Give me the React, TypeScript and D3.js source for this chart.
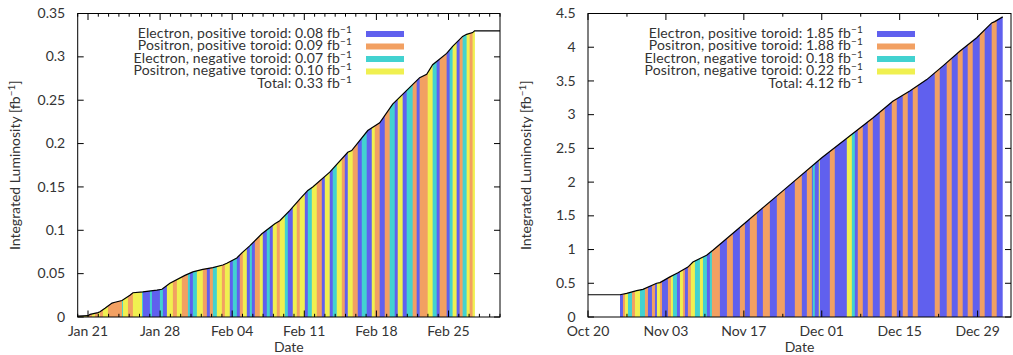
import React from "react";
import * as d3 from "d3";

// Beam/toroid configurations, in legend order
const configNames = [
  "Electron, positive toroid",
  "Positron, positive toroid",
  "Electron, negative toroid",
  "Positron, negative toroid",
];
const configColors = ["#6060ee", "#f2a062", "#42d2d0", "#f0f050"];
const configCodes = "abcd";

const DAY = 86400000;

// ---- Spring run (days counted from Jan 20) ----
const springStart = Date.UTC(2018, 0, 20);
const springSpanDays = 41;
const springCurveDay = [
  0, 1.0, 1.2, 1.97, 2.16, 2.65, 3.33, 3.62, 4.3, 5.07, 5.36, 6.33, 7.69, 8.18,
  8.95, 10.41, 11.18, 12.15, 13.12, 14.09, 14.48, 15.45, 15.94, 16.7, 17.88,
  19.14, 19.62, 20.6, 21.56, 22.34, 22.82, 24.47, 26.22, 26.6, 28.16, 29.32,
  30.58, 33.2, 33.88, 34.46, 35.82, 36.4, 37.37, 37.76, 38.34, 38.53, 41,
];
const springCurveLumi = [
  0.001, 0.0015, 0.003, 0.005, 0.006, 0.01, 0.016, 0.017, 0.019, 0.025, 0.028,
  0.029, 0.031, 0.032, 0.039, 0.048, 0.052, 0.055, 0.057, 0.06, 0.062, 0.068,
  0.074, 0.082, 0.096, 0.1075, 0.111, 0.123, 0.136, 0.146, 0.15, 0.167, 0.19,
  0.192, 0.215, 0.224, 0.2455, 0.276, 0.28, 0.291, 0.304, 0.312, 0.3236, 0.326,
  0.328, 0.33, 0.33,
];
const springRunEdges = [
  0, 1.0, 1.39, 1.68, 1.97, 2.16, 2.45, 2.94, 4.3, 4.39, 4.88, 5.36, 6.24, 6.33,
  7.01, 7.21, 7.98, 8.27, 8.66, 9.24, 9.63, 10.11, 10.7, 10.89, 11.18, 11.57,
  12.15, 12.54, 12.83, 13.12, 13.51, 14.0, 14.29, 14.77, 15.06, 15.45, 15.74,
  16.03, 16.42, 16.71, 16.91, 17.2, 17.68, 17.97, 18.36, 18.65, 18.94, 19.33,
  19.62, 20.11, 20.4, 20.88, 21.27, 21.56, 22.05, 22.34, 22.73, 23.21, 23.7,
  23.99, 24.47, 24.76, 25.15, 25.64, 25.93, 26.22, 26.7, 27.19, 27.58, 28.06,
  28.55, 28.84, 29.32, 29.81, 30.29, 30.78, 31.07, 31.55, 31.94, 32.52, 32.91,
  33.2, 33.98, 34.46, 34.85, 35.14, 35.82, 36.11, 36.4, 36.79, 37.08, 37.37,
  37.76, 38.05, 38.34, 38.53,
];
const springRunConfig =
  "dbdbdbdbcd" + "bdcacacadb" + "dbcacdbabc" + "dbdacabdac" + "abdacadbdc" +
  "adbdacdbad" + "acdbadbaca" + "dbabcadacb" + "abdcabacda" + "bcdbd";
const springTotals = [0.08, 0.09, 0.07, 0.1];
const springTotal = 0.33;
const springYMax = 0.35;
const springYTicks = [0, 0.05, 0.1, 0.15, 0.2, 0.25, 0.3, 0.35];

// ---- Fall run (days counted from Oct 20) ----
const fallStart = Date.UTC(2018, 9, 20);
const fallSpanDays = 76;
const fallCurveDay = [
  0, 5.75, 6.95, 8.74, 9.87, 12.33, 12.93, 14.72, 16.16, 17.95, 18.85, 21.31,
  22.44, 28.0, 35.0, 42.0, 51.17, 54.76, 57.81, 60.86, 63.73, 66.79, 69.84,
  72.53, 73.07, 74.51,
];
const fallCurveLumi = [
  0.33, 0.33, 0.35, 0.39, 0.41, 0.5, 0.51, 0.595, 0.655, 0.74, 0.815, 0.915,
  0.99, 1.38, 1.87, 2.36, 2.95, 3.2, 3.35, 3.52, 3.72, 3.94, 4.14, 4.36, 4.38,
  4.45,
];
const fallRunEdges = [
  5.75, 6.28, 6.64, 7.18, 7.9, 8.44, 9.34, 10.23, 10.77, 11.49, 12.03, 12.39,
  12.93, 13.29, 14.36, 14.9, 15.26, 15.98, 16.52, 17.06, 17.41, 17.95, 18.49,
  19.21, 20.11, 20.65, 21.36, 21.9, 22.26, 23.7, 24.96, 26.03, 27.29, 28.19,
  29.08, 30.34, 31.42, 32.68, 33.93, 35.37, 37.16, 38.42, 39.32, 40.22, 40.39,
  40.75, 41.47, 41.65, 43.45, 44.34, 46.5, 47.4, 47.94, 48.47, 49.37, 50.27,
  51.17, 52.42, 53.32, 54.58, 55.48, 56.55, 57.45, 58.35, 59.25, 62.3, 63.2,
  64.45, 65.35, 66.43, 67.32, 68.22, 69.12, 70.38, 71.27, 72.53, 73.43, 74.51,
];
const fallRunConfig =
  "abdcbdcbab" + "adbabdcadb" + "abdcdcacba" + "bababababa" + "babacadaba" +
  "dcabababab" + "ababababab" + "abababa";
const fallTotals = [1.85, 1.88, 0.18, 0.22];
const fallTotal = 4.12;
const fallYMax = 4.5;
const fallYTicks = [0, 0.5, 1, 1.5, 2, 2.5, 3, 3.5, 4, 4.5];

const FONT = "Lato, 'DejaVu Sans', sans-serif";
const TEXT = "#333";
const FS = 14;
const LEGEND_FS = 14;
const fmtDate = d3.utcFormat("%b %d");

type PanelProps = {
  id: string;
  left: number;
  right: number;
  top: number;
  bottom: number;
  start: number;
  spanDays: number;
  curveDay: number[];
  curveLumi: number[];
  edges: number[];
  configs: string;
  totals: number[];
  total: number;
  yMax: number;
  yTicks: number[];
  tickStep: number; // days between ticks
  labelStep: number; // days between labelled (long) ticks
  labelOffset: number; // first labelled tick, in days
  yLabelX: number;
};

function Panel(p: PanelProps) {
  const x = d3
    .scaleUtc()
    .domain([new Date(p.start), new Date(p.start + p.spanDays * DAY)])
    .range([p.left, p.right]);
  const y = d3.scaleLinear().domain([0, p.yMax]).range([p.bottom, p.top]);
  const t = (d: number) => new Date(p.start + d * DAY);

  const pts: [number, number][] = p.curveDay.map((d, i) => [d, p.curveLumi[i]]);
  const area = d3
    .area<[number, number]>()
    .x((q) => x(t(q[0])))
    .y0(y(0))
    .y1((q) => y(q[1]));
  const line = d3
    .line<[number, number]>()
    .x((q) => x(t(q[0])))
    .y((q) => y(q[1]));

  const runs = p.edges.slice(0, -1).map((e, i) => ({
    start: e,
    end: p.edges[i + 1],
    cfg: configCodes.indexOf(p.configs[i]),
  }));

  const ticks: { d: number; major: boolean }[] = [];
  for (let d = 0; d <= p.spanDays + 1e-9; d += p.tickStep) {
    const major = (((d - p.labelOffset) % p.labelStep) + p.labelStep) % p.labelStep === 0;
    ticks.push({ d, major });
  }

  const legendX = p.right - 148;
  const swatchX = p.right - 134;
  const rowY = (i: number) => p.top + 24 + i * 12.5;
  const clipId = `${p.id}-under`;

  return (
    <g>
      <defs>
        <clipPath id={clipId}>
          <path d={area(pts) || ""} />
        </clipPath>
      </defs>
      <g clipPath={`url(#${clipId})`}>
        {runs.map((r, i) => (
          <rect
            key={i}
            x={x(t(r.start))}
            y={p.top}
            width={x(t(r.end)) - x(t(r.start)) + 0.35}
            height={p.bottom - p.top}
            fill={configColors[r.cfg]}
          />
        ))}
      </g>
      <path d={line(pts) || ""} fill="none" stroke="#000" strokeWidth={1.2} />

      {/* frame */}
      <rect
        x={p.left}
        y={p.top}
        width={p.right - p.left}
        height={p.bottom - p.top}
        fill="none"
        stroke="#000"
        strokeWidth={1}
      />

      {/* date ticks, bottom and top */}
      {ticks.map((tk, i) => {
        const xx = x(t(tk.d));
        const len = tk.major ? 6.5 : 3.2;
        return (
          <g key={i}>
            <line x1={xx} x2={xx} y1={p.bottom} y2={p.bottom - len} stroke="#000" />
            <line x1={xx} x2={xx} y1={p.top} y2={p.top + len} stroke="#000" />
            {tk.major && (
              <text
                x={xx}
                y={p.bottom + 18.5}
                textAnchor="middle"
                fontFamily={FONT}
                fontSize={FS}
                fill={TEXT}
              >
                {fmtDate(t(tk.d))}
              </text>
            )}
          </g>
        );
      })}

      {/* value ticks, left and right */}
      {p.yTicks.map((v, i) => (
        <g key={i}>
          <line x1={p.left} x2={p.left + 6} y1={y(v)} y2={y(v)} stroke="#000" />
          <line x1={p.right} x2={p.right - 6} y1={y(v)} y2={y(v)} stroke="#000" />
          <text
            x={p.left - 12.5}
            y={y(v)}
            dy="0.33em"
            textAnchor="end"
            fontFamily={FONT}
            fontSize={FS}
            fill={TEXT}
          >
            {String(v)}
          </text>
        </g>
      ))}

      {/* axis titles */}
      <text
        x={(p.left + p.right) / 2}
        y={352}
        textAnchor="middle"
        fontFamily={FONT}
        fontSize={FS}
        fill={TEXT}
      >
        Date
      </text>
      <text
        transform={`translate(${p.yLabelX},${(p.top + p.bottom) / 2}) rotate(-90)`}
        textAnchor="middle"
        fontFamily={FONT}
        fontSize={FS}
        fill={TEXT}
      >
        Integrated Luminosity [fb
        <tspan fontSize={10} dy={-5.5}>
          −1
        </tspan>
        <tspan dy={5.5}>]</tspan>
      </text>

      {/* legend */}
      {configNames.map((name, i) => (
        <g key={i}>
          <text
            x={legendX}
            y={rowY(i)}
            textAnchor="end"
            fontFamily={FONT}
            fontSize={LEGEND_FS}
            letterSpacing={0.15}
            fill={TEXT}
          >
            {`${name}: ${p.totals[i].toFixed(2)} fb`}
            <tspan fontSize={10} dy={-5}>
              −1
            </tspan>
          </text>
          <rect
            x={swatchX}
            y={rowY(i) - 6.5}
            width={38}
            height={6}
            fill={configColors[i]}
          />
        </g>
      ))}
      <text
        x={legendX}
        y={rowY(4)}
        textAnchor="end"
        fontFamily={FONT}
        fontSize={LEGEND_FS}
        letterSpacing={0.15}
        fill={TEXT}
      >
        {`Total: ${p.total.toFixed(2)} fb`}
        <tspan fontSize={10} dy={-5}>
          −1
        </tspan>
      </text>
    </g>
  );
}

export default function App() {
  return (
    <svg
      width={1013}
      height={355}
      style={{ position: "absolute", left: 0, top: 0, background: "#fff" }}
    >
      <Panel
        id="spring"
        left={77.7}
        right={500}
        top={13.5}
        bottom={317}
        start={springStart}
        spanDays={springSpanDays}
        curveDay={springCurveDay}
        curveLumi={springCurveLumi}
        edges={springRunEdges}
        configs={springRunConfig}
        totals={springTotals}
        total={springTotal}
        yMax={springYMax}
        yTicks={springYTicks}
        tickStep={1}
        labelStep={7}
        labelOffset={1}
        yLabelX={20}
      />
      <Panel
        id="fall"
        left={588}
        right={1011}
        top={13.5}
        bottom={317}
        start={fallStart}
        spanDays={fallSpanDays}
        curveDay={fallCurveDay}
        curveLumi={fallCurveLumi}
        edges={fallRunEdges}
        configs={fallRunConfig}
        totals={fallTotals}
        total={fallTotal}
        yMax={fallYMax}
        yTicks={fallYTicks}
        tickStep={7}
        labelStep={14}
        labelOffset={0}
        yLabelX={531}
      />
    </svg>
  );
}
